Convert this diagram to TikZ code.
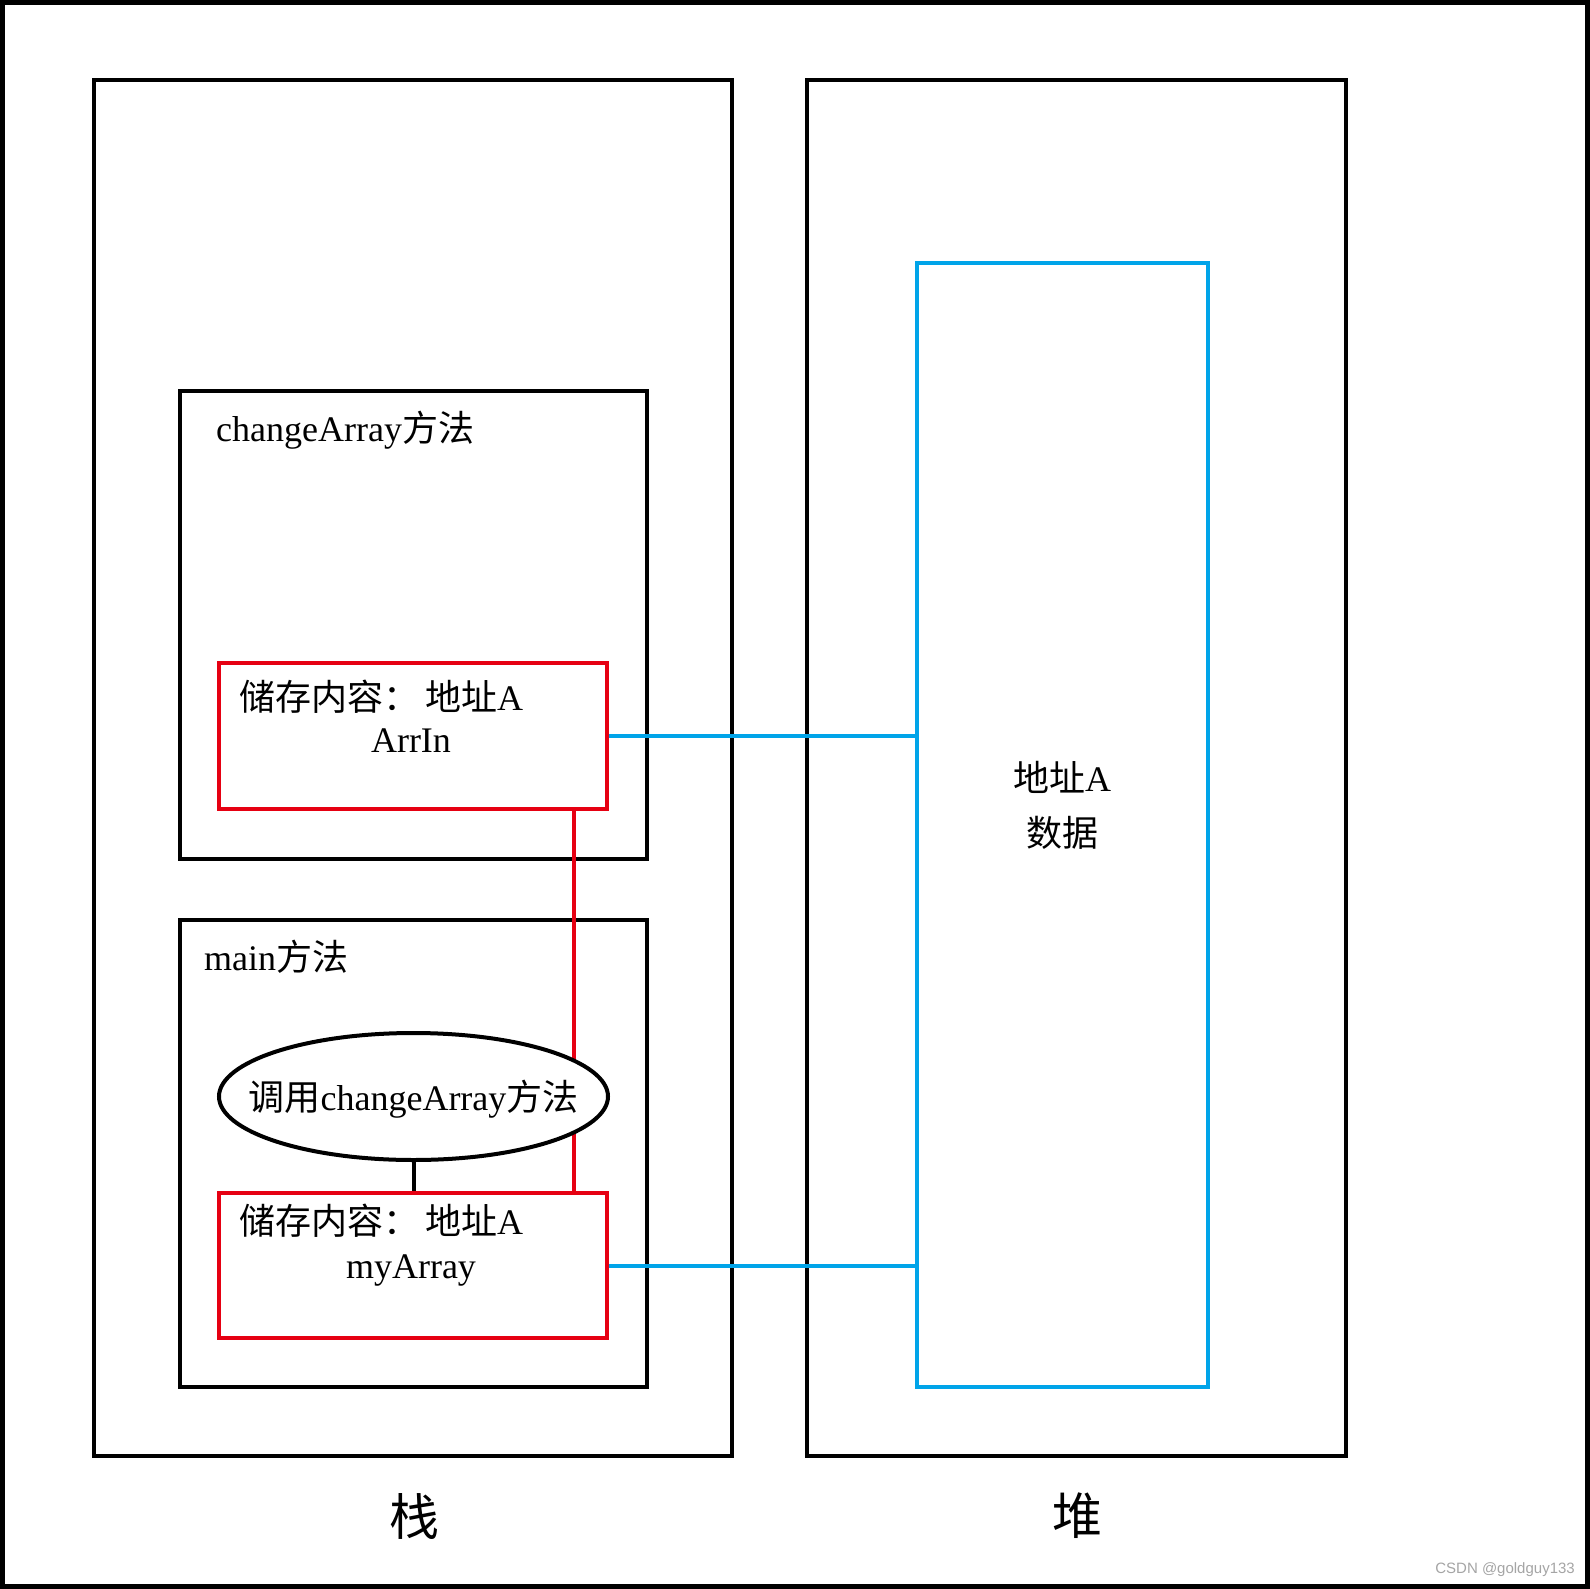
\documentclass[tikz,border=0pt]{standalone}
\usepackage{fontspec}
\setmainfont{Liberation Serif}
\newfontfamily\cjk{Noto Sans CJK SC}
\newfontfamily\wmfont{Liberation Sans}
\usetikzlibrary{shapes.geometric}
\definecolor{boxred}{RGB}{230,0,18}
\definecolor{boxblue}{RGB}{0,164,233}
\definecolor{wmgray}{RGB}{165,165,165}
\tikzset{
  blackbox/.style={draw=black, line width=4pt, rectangle, inner sep=0pt, anchor=center},
  redbox/.style={draw=boxred, line width=4pt, rectangle, inner sep=0pt, anchor=center},
  bluebox/.style={draw=boxblue, line width=4pt, rectangle, inner sep=0pt, anchor=center},
  txt/.style={inner sep=0pt, font=\fontsize{36}{43}\selectfont},
  bigtxt/.style={inner sep=0pt, font=\fontsize{50}{60}\selectfont},
  redline/.style={draw=boxred, line width=4pt},
  blueline/.style={draw=boxblue, line width=4pt},
  blackline/.style={draw=black, line width=4pt},
}
\begin{document}
\begin{tikzpicture}[x=1pt, y=-1pt]
\useasboundingbox (0,0) rectangle (1590,1589);
\fill[white] (0,0) rectangle (1590,1589);
% outer frame
\node[draw=black, line width=5pt, rectangle, inner sep=0pt, minimum width=1584.5pt, minimum height=1584pt, anchor=center] (frame) at (794.75,794.5) {};
% stack and heap
\node[blackbox, minimum width=637.8pt, minimum height=1376pt] (stack) at (413.2,768.1) {};
\node[blackbox, minimum width=538.4pt, minimum height=1376pt] (heap) at (1076.4,768.1) {};
\node[bluebox, minimum width=291pt, minimum height=1124.6pt] (data) at (1062.2,824.9) {};
% method frames
\node[blackbox, minimum width=467.5pt, minimum height=467.5pt] (chg) at (413.25,625.15) {};
\node[blackbox, minimum width=467.5pt, minimum height=467.5pt] (mainm) at (413.25,1153.45) {};
% red storage boxes
\node[redbox, minimum width=388pt, minimum height=146pt] (red1) at (413,736) {};
\node[redbox, minimum width=388pt, minimum height=145pt] (red2) at (413,1265.5) {};
% connectors
\coordinate (rl) at (574,0);
\draw[redline] (red1.south -| rl) -- (red2.north -| rl);
\draw[blueline] (red1.east) -- (red1.east -| data.west);
\draw[blueline] (red2.east) -- (red2.east -| data.west);
% ellipse call
\node[ellipse, draw=black, line width=4pt, fill=white, inner sep=0pt, minimum width=389pt, minimum height=127pt] (call) at (413.5,1096.5) {};
\node[txt] (calltxt) at (413.5,1099) {{\cjk 调用}changeArray{\cjk 方法}};
\draw[blackline] (call.south) -- (red2.north -| call.south);
% texts
\node[txt, anchor=west] (chgtxt) at (216,430) {changeArray{\cjk 方法}};
\node[txt, anchor=west] (maintxt) at (204,957) {main{\cjk 方法}};
\node[txt, anchor=west] (r1a) at (239,697) {{\cjk 储存内容：\hspace{6pt}地址}A};
\node[txt, anchor=base] (r1b) at (411,752) {ArrIn};
\node[txt, anchor=west] (r2a) at (239,1221) {{\cjk 储存内容：\hspace{6pt}地址}A};
\node[txt, anchor=base] (r2b) at (411,1278) {myArray};
\node[txt] (d1) at (1062,777) {{\cjk 地址}A};
\node[txt] (d2) at (1062,833) {\cjk 数据};
\node[bigtxt] (stacklbl) at (414,1516) {\cjk 栈};
\node[bigtxt] (heaplbl) at (1077,1516) {\cjk 堆};
\node[inner sep=0pt, anchor=east, text=wmgray, font=\wmfont\fontsize{15}{18}\selectfont] (wm) at (1575,1570) {CSDN @goldguy133};
\end{tikzpicture}
\end{document}
